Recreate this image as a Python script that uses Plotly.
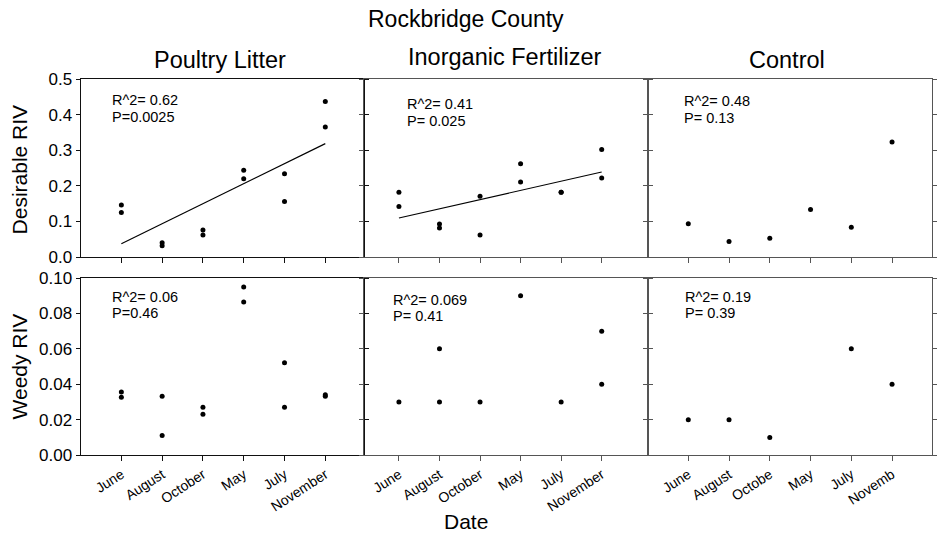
import numpy as np
import plotly.graph_objects as go

# ---------------- data ----------------
months = ["June", "August", "October", "May", "July", "November"]
months_ctrl = ["June", "August", "Octobe", "May", "July", "Novemb"]
treatments = ["Poultry Litter", "Inorganic Fertilizer", "Control"]

# Desirable RIV (x = sampling date index 1..6)
pl_des_x = [1, 1, 2, 2, 3, 3, 4, 4, 5, 5, 6, 6]
pl_des_y = [0.146, 0.125, 0.040, 0.032, 0.076, 0.062, 0.244, 0.220, 0.234, 0.156, 0.437, 0.365]
if_des_x = [1, 1, 2, 2, 3, 3, 4, 4, 5, 5, 6, 6]
if_des_y = [0.182, 0.142, 0.093, 0.082, 0.171, 0.062, 0.262, 0.211, 0.182, 0.182, 0.302, 0.222]
ct_des_x = [1, 2, 3, 4, 5, 6]
ct_des_y = [0.094, 0.044, 0.053, 0.134, 0.084, 0.323]

# Weedy RIV
pl_wee_x = [1, 1, 2, 2, 3, 3, 4, 4, 5, 5, 6, 6]
pl_wee_y = [0.0356, 0.0326, 0.0333, 0.0111, 0.0270, 0.0230, 0.0949, 0.0865, 0.0522, 0.0270, 0.0341, 0.0333]
if_wee_x = [1, 2, 2, 3, 4, 5, 6, 6]
if_wee_y = [0.030, 0.060, 0.030, 0.030, 0.090, 0.030, 0.070, 0.040]
ct_wee_x = [1, 2, 3, 5, 6]
ct_wee_y = [0.020, 0.020, 0.010, 0.060, 0.040]

stats_des = [("R^2= 0.62", "P=0.0025"), ("R^2= 0.41", "P= 0.025"), ("R^2= 0.48", "P= 0.13")]
stats_wee = [("R^2= 0.06", "P=0.46"), ("R^2= 0.069", "P= 0.41"), ("R^2= 0.19", "P= 0.39")]
fit_panels = [True, True, False]

# ---------------- layout geometry ----------------
FW, FH = 937, 543
FONT = "Liberation Sans, Arial, Helvetica, sans-serif"

# target positions are given in picture pixels; the photographed page comes out
# slightly compressed vertically (y_pic ~ 8.6 + 0.97*y_page), so invert that here
Y_OFF, Y_SCALE, X_OFF = 8.6, 0.97, 1.0


def sx(px):
    return (px + X_OFF) / FW


def sy(py):
    return 1 - ((py - Y_OFF) / Y_SCALE) / FH


col_px = [(80, 365), (365, 650), (650, 936)]
row_px = [(79, 258), (279, 457)]
xranges = [[0, 6.95], [0.14, 7.13], [0, 6.98]]
line_cols = ["#111111", "#555555", "#555555"]
note_px = [[(111, 100.5, 117), (407, 104.5, 121), (686, 101.5, 118)],
           [(111, 298, 314.5), (393, 301, 317.5), (687, 298, 314.5)]]

fig = go.Figure()

data_rows = [
    [(pl_des_x, pl_des_y), (if_des_x, if_des_y), (ct_des_x, ct_des_y)],
    [(pl_wee_x, pl_wee_y), (if_wee_x, if_wee_y), (ct_wee_x, ct_wee_y)],
]
stats_rows = [stats_des, stats_wee]

layout = dict(width=FW, height=FH, margin=dict(l=0, r=0, t=0, b=0), autosize=False,
              paper_bgcolor="white", plot_bgcolor="white", showlegend=False,
              font=dict(family=FONT, color="black"))
annotations = []

for r in range(2):
    for c in range(3):
        n = r * 3 + c + 1
        sfx = "" if n == 1 else str(n)
        xs, ys = data_rows[r][c]
        fig.add_trace(go.Scatter(x=xs, y=ys, mode="markers",
                                 marker=dict(color="black", size=5),
                                 xaxis="x" + sfx, yaxis="y" + sfx, hoverinfo="x+y"))
        if r == 0 and fit_panels[c]:
            k, b0 = np.polyfit(np.array(xs, float), np.array(ys, float), 1)
            fx = np.array([min(xs), max(xs)], float)
            fig.add_trace(go.Scatter(x=fx, y=k * fx + b0, mode="lines",
                                     line=dict(color="black", width=1.2),
                                     xaxis="x" + sfx, yaxis="y" + sfx, hoverinfo="skip"))
        x0, x1 = col_px[c]
        y0, y1 = row_px[r]
        labels = months_ctrl if c == 2 else months
        lc = line_cols[c]
        layout["xaxis" + sfx] = dict(
            domain=[sx(x0), min(1.0, sx(x1))], anchor="y" + sfx, range=xranges[c],
            tickmode="array", tickvals=[1, 2, 3, 4, 5, 6], ticktext=labels,
            showticklabels=(r == 1), tickangle=-33, ticks="outside", ticklen=5,
            tickcolor=lc, showline=True, linecolor=lc, linewidth=1, mirror=True,
            showgrid=False, zeroline=False, tickfont=dict(size=14, family=FONT))
        if r == 0:
            yax = dict(range=[0, 0.5], tickvals=[0, 0.1, 0.2, 0.3, 0.4, 0.5], tickformat=".1f")
        else:
            yax = dict(range=[0, 0.1], tickvals=[0, 0.02, 0.04, 0.06, 0.08, 0.10], tickformat=".2f")
        yax.update(domain=[sy(y1), sy(y0)], anchor="x" + sfx,
                   showticklabels=(c == 0), ticks="outside", ticklen=4, tickcolor=lc,
                   showline=True, linecolor=lc, linewidth=1, mirror="ticks",
                   showgrid=False, zeroline=False, tickfont=dict(size=17, family=FONT))
        layout["yaxis" + sfx] = yax
        px, py1, py2 = note_px[r][c]
        s1, s2 = stats_rows[r][c]
        for txt, py in ((s1, py1), (s2, py2)):
            annotations.append(dict(text=txt, xref="paper", yref="paper",
                                    x=sx(px), y=sy(py), xanchor="left", yanchor="middle",
                                    align="left", showarrow=False, borderpad=0,
                                    font=dict(size=14.5, family=FONT, color="black")))

# titles
title_pos = [(220, 60), (506, 57), (790, 60)]
for c, name in enumerate(treatments):
    cx, cy = title_pos[c]
    annotations.append(dict(text=name, xref="paper", yref="paper", x=sx(cx), y=sy(cy),
                            xanchor="center", yanchor="middle", showarrow=False,
                            font=dict(size=23.5, family=FONT)))
annotations.append(dict(text="Rockbridge County", xref="paper", yref="paper",
                        x=sx(468), y=sy(19), xanchor="center", yanchor="middle",
                        showarrow=False, font=dict(size=23, family=FONT)))
annotations.append(dict(text="Date", xref="paper", yref="paper",
                        x=sx(468), y=sy(524), xanchor="center", yanchor="middle",
                        showarrow=False, font=dict(size=21, family=FONT)))
annotations.append(dict(text="Desirable RIV", xref="paper", yref="paper",
                        x=sx(19), y=sy(170), xanchor="center", yanchor="middle",
                        textangle=-90, showarrow=False, font=dict(size=21, family=FONT)))
annotations.append(dict(text="Weedy RIV", xref="paper", yref="paper",
                        x=sx(19), y=sy(368), xanchor="center", yanchor="middle",
                        textangle=-90, showarrow=False, font=dict(size=21, family=FONT)))
layout["annotations"] = annotations

fig.update_layout(**layout)

# remove the default page margin so the figure sits exactly in the window
page_fix = ("document.documentElement.style.margin='0';"
            "document.body.style.margin='0';document.body.style.padding='0';"
            "document.documentElement.style.overflow='hidden';"
            "document.body.style.overflow='hidden';")
fig.write_html("out.html", config={"displayModeBar": False}, post_script=page_fix)
